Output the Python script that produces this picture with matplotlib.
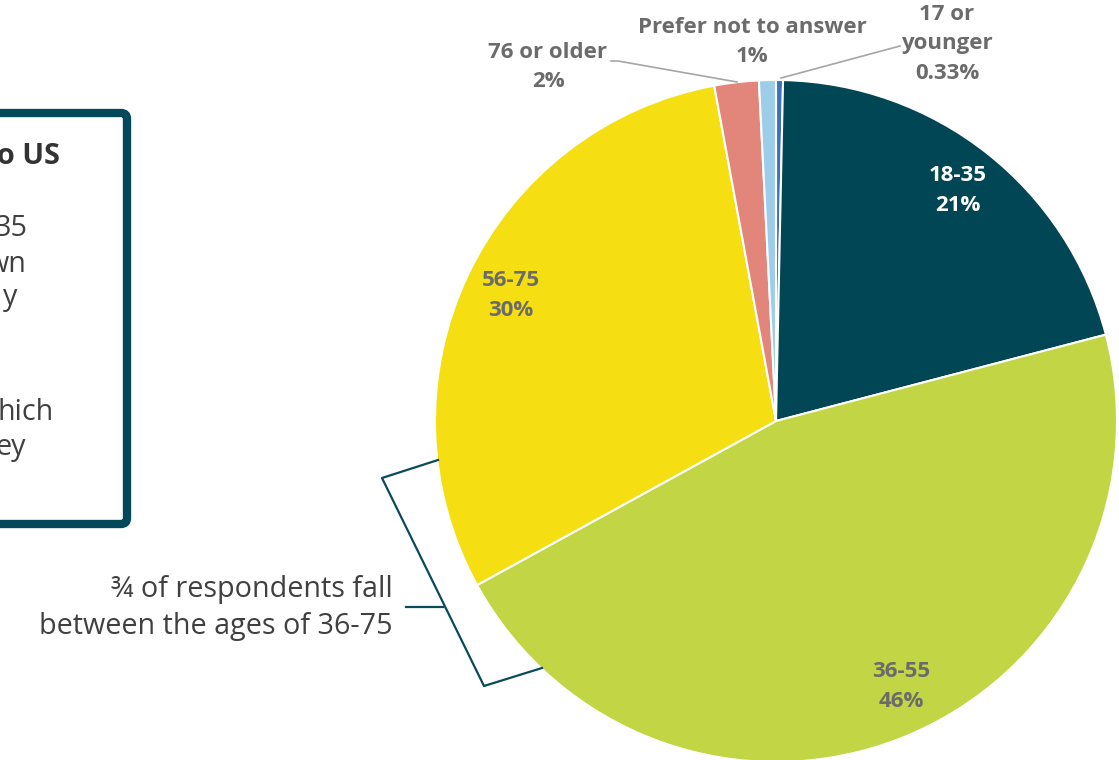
import numpy as np
import matplotlib
matplotlib.use("Agg")
import matplotlib.pyplot as plt
from matplotlib.patches import FancyBboxPatch

plt.rcParams['font.family'] = ['Open Sans', 'DejaVu Sans']

# Data
groups = ["17 or\nyounger", "18-35", "36-55", "56-75", "76 or older", "Prefer not to answer"]
shares = [0.33, 20.6, 46.1, 30.1, 2.1, 0.8]
pct_labels = ["0.33%", "21%", "46%", "30%", "2%", "1%"]
colors = ["#3F6FBA", "#004654", "#C2D545", "#F5DF12", "#E2857A", "#9DCDE8"]

W, H = 1119, 760
fig = plt.figure(figsize=(W / 100, H / 100), dpi=100)
ax = fig.add_axes([0, 0, 1, 1])

def Y(y):
    # image-style y (from top) to data y
    return H - y

cx, cy, R = 776, Y(421), 341
wedges, _ = ax.pie(shares, colors=colors, startangle=90, counterclock=False,
                   center=(cx, cy), radius=R,
                   wedgeprops=dict(edgecolor="white", linewidth=1.5))
ax.set_xlim(0, W)
ax.set_ylim(0, H)
ax.set_aspect("equal")
ax.axis("off")

label_grey = "#6B6B6B"
# inner labels (distance as a fraction of the radius, small angle nudge)
for i, col, dist, nudge in [(1, "white", 0.86, 0), (2, label_grey, 0.86, 3.5),
                            (3, label_grey, 0.86, 0)]:
    w = wedges[i]
    mid = np.deg2rad((w.theta1 + w.theta2) / 2 + nudge)
    x = cx + dist * R * np.cos(mid)
    y = cy + dist * R * np.sin(mid)
    ax.text(x, y, f"{groups[i]}\n{pct_labels[i]}", ha="center", va="center",
            color=col, fontsize=16, fontweight="bold", linespacing=1.55)

# outer labels with leader lines
outer = {0: (947, 44), 4: (548, 67), 5: (752, 42)}
for i, (lx, ly) in outer.items():
    ax.text(lx, Y(ly), f"{groups[i]}\n{pct_labels[i]}", ha="center", va="center",
            color=label_grey, fontsize=16, fontweight="bold", linespacing=1.55)

ax.plot([611, 618, 737], [Y(61), Y(61), Y(82)], color="#A6A6A6", lw=1.2)
ax.plot([781, 900], [Y(78), Y(46)], color="#A6A6A6", lw=1.2)

# bracket annotation
teal = "#0B4A5A"
ax.plot([438, 382, 484, 542], [Y(460), Y(478), Y(686), Y(668)], color=teal, lw=1.6)
ax.plot([406, 443], [Y(607), Y(607)], color=teal, lw=1.6)
ax.text(393, Y(608), "¾ of respondents fall\nbetween the ages of 36-75", ha="right",
        va="center", color="#404040", fontsize=20.7, linespacing=1.4)

# side box (cut off on the left, as in the source)
box = FancyBboxPatch((-60, Y(524)), 187, 411, boxstyle="round,pad=0,rounding_size=6",
                     facecolor="white", edgecolor="#03495A", linewidth=6)
ax.add_patch(box)
ax.text(60, Y(157), "o US", ha="right", va="center", color="#333333",
        fontsize=20.7, fontweight="bold")
for txt, xe, ye in [("35", 28, 228), ("wn", 27, 265), ("y", 17, 298),
                    ("hich", 54, 412), ("ey", 26, 448)]:
    ax.text(xe, Y(ye), txt, ha="right", va="center", color="#404040", fontsize=20.7)

fig.savefig("out.png", dpi=100)
